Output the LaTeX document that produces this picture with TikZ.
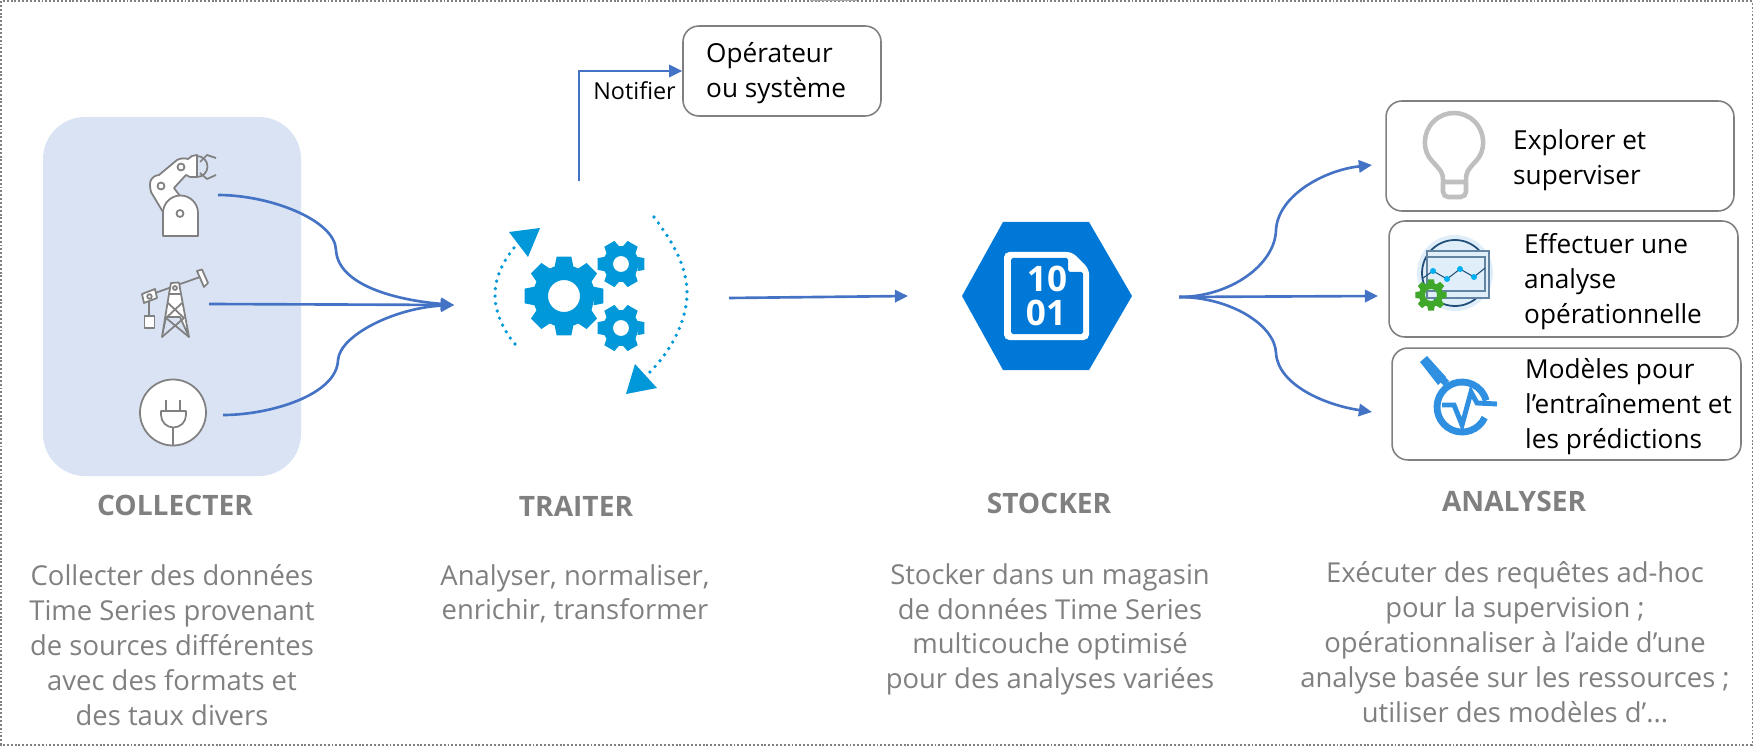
\documentclass[tikz,border=0pt]{standalone}
\usepackage{fontspec}
\setmainfont{Open Sans}
\usetikzlibrary{arrows.meta}

\definecolor{bleuligne}{HTML}{4472C4}
\definecolor{bleupanneau}{HTML}{DAE3F3}
\definecolor{grisicone}{HTML}{808080}
\definecolor{bleuroue}{HTML}{0098D9}
\definecolor{bleuhex}{HTML}{0078D7}
\definecolor{bleuloupe}{HTML}{2F8FE0}
\definecolor{vertroue}{HTML}{3FA82B}
\definecolor{bleunuit}{HTML}{1F4E79}
\definecolor{bleupale}{HTML}{E0EEF9}
\definecolor{bleupoint}{HTML}{00B0F0}

\tikzset{
  lien/.style={draw=bleuligne, line width=1.5pt, -{Triangle[length=7.5pt,width=7pt]}},
  boite/.style={draw=grisicone, line width=0.9pt, rounded corners=9pt, inner sep=0pt},
  icone/.style={draw=grisicone, line width=1pt, fill=white, line join=round},
  pointille/.style={draw=bleuroue, line width=2.1pt, line cap=round, dash pattern=on 0pt off 4.3pt},
  titre/.style={text=grisicone, font=\fontsize{16}{18}\selectfont\bfseries, anchor=base},
  corps/.style={text=grisicone, font=\fontsize{15.6}{19.9}\selectfont, align=center, anchor=north},
  texteboite/.style={font=\fontsize{14.9}{19.9}\selectfont, align=left, anchor=north west},
}

% roue dentee : x, y, dents, rayon ext, rayon int, trou, couleur
\newcommand{\roue}[7]{
  \begin{scope}[shift={(#1,#2)}]
    \fill[#7, even odd rule] (0:#5)
      \foreach \d in {1,...,#3} {
        -- ({\d*360/#3-140/#3}:#5) -- ({\d*360/#3-85/#3}:#4)
        -- ({\d*360/#3+85/#3}:#4) -- ({\d*360/#3+140/#3}:#5)
      } -- cycle (0,0) circle (#6);
  \end{scope}
}

\begin{document}
\begin{tikzpicture}[x=0.02cm, y=-0.02cm]
  \useasboundingbox (0,0) rectangle (1763,746);

  % Cadre
  \draw[gray, line width=0.6pt, dash pattern=on 1.1pt off 1.1pt] (1,1) rectangle (1752,745);
  \draw[gray!70, line width=1pt] (810,0.5) -- (857,0.5);

  % Collecter
  \fill[bleupanneau, rounded corners=24pt] (43,117) rectangle (301,476);

  % robot
  \draw[icone] (163,212) -- (151,192) .. controls (148,180) and (152,176) .. (159,175)
    -- (177,160) .. controls (181,158) and (185,158) .. (188,159) -- (192,156) -- (197,155)
    -- (197,177) -- (190,177) -- (186,175) -- (174,188) -- (183,200) -- (163,212);
  \draw[icone] (163,236) -- (163,213) arc (180:360:17.5) -- (198,236) -- cycle;
  \draw[icone, fill=none] (161,186) circle (3.5) (181,167) circle (3.5) (180,213.5) circle (3.5);
  \draw[icone, fill=none] (197,156) arc (-90:90:10.5);
  \draw[icone, fill=none] (200,162) -- (207,155) -- (216,158);
  \draw[icone, fill=none] (200,173) -- (207,179) -- (216,175);

  % pompe
  \draw[icone, fill=none] (149,297) -- (149,316);
  \draw[icone] (144.5,316) rectangle (154.5,328);
  \draw[icone, fill=none] (155,293) -- (200,277);
  \draw[icone] (197,271) -- (202,269.5) -- (208,283) -- (204,287) -- cycle;
  \draw[icone] (142,294) -- (155,289) -- (157,298) -- (144,303) -- cycle;
  \draw[icone, fill=none] (149.5,296.5) circle (2.3);
  \draw[icone] (162,337) -- (169,294) -- (181,294) -- (189,337) -- (180,317) -- (166,317) -- cycle;
  \draw[icone] (169,294) -- (171,283) -- (179,282.5) -- (181,294) -- cycle;
  \draw[icone, fill=none] (175,288) circle (2);
  \draw[icone, fill=none] (162,337) -- (184,318) -- (168,303) (189,337) -- (166,318) -- (182,303);

  % prise
  \draw[icone] (173,412.5) circle (33);
  \draw[icone, fill=none] (166,400) -- (166,411) (180,400) -- (180,411);
  \draw[icone, fill=none] (161,411) -- (186,411) -- (186,415) arc (0:180:12.5) -- cycle;
  \draw[icone, fill=none] (173,427) -- (173,445);

  \coordinate (robotsortie) at (218,195);
  \coordinate (pompesortie) at (209,304);
  \coordinate (prisesortie) at (223,415);
  \coordinate (collecte) at (454,305);
  \draw[lien] (robotsortie) .. controls (270,195) and (335,220) .. (336,250)
    .. controls (338,285) and (395,300) .. (collecte);
  \draw[lien] (pompesortie) -- (collecte);
  \draw[lien] (prisesortie) .. controls (270,415) and (337,395) .. (338,360)
    .. controls (340,335) and (395,308) .. (collecte);

  \node[titre] (titrecollecter) at (175,515) {COLLECTER};
  \node[corps] (textecollecter) at (172,558) {Collecter des données\\Time Series provenant\\de sources différentes\\avec des formats et\\des taux divers};

  % Traiter
  \roue{564}{296}{8}{40}{31}{16}{bleuroue}
  \roue{621}{264}{6}{24}{18}{8}{bleuroue}
  \roue{621}{328}{6}{24}{18}{8}{bleuroue}
  \draw[pointille] (654,217) .. controls (675,245) and (687,268) .. (687,293)
    .. controls (687,320) and (672,350) .. (649,373);
  \draw[pointille] (515,344) .. controls (503,330) and (495,312) .. (495,295)
    .. controls (495,275) and (505,258) .. (518,243);
  \fill[bleuroue] (509,232) -- (540,228) -- (528,257) -- cycle;
  \fill[bleuroue] (635,364) -- (657,388) -- (626,394) -- cycle;

  \node[boite, minimum width=112.7pt, minimum height=51.2pt] (operateur) at (782,71) {};
  \node[texteboite] (texteoperateur) at (700,36) {Opérateur\\ou système};
  \node[font=\fontsize{13.3}{15}\selectfont, anchor=base west, inner sep=0pt] (notifier) at (593,100) {Notifier};
  \coordinate (alerte) at (579,181);
  \draw[lien] (alerte) |- (operateur.west);

  \coordinate (traitersortie) at (729,298);
  \coordinate (stockerentree) at (908,296);
  \draw[lien] (traitersortie) -- (stockerentree);

  \node[titre] (titretraiter) at (576,516) {TRAITER};
  \node[corps] (textetraiter) at (575,558) {Analyser, normaliser,\\enrichir, transformer};

  % Stocker
  \fill[bleuhex] (962,296) -- (1003,222) -- (1089,222) -- (1132,296) -- (1089,370) -- (1003,370) -- cycle;
  \fill[white, rounded corners=3pt] (1004,252) -- (1072,252) -- (1089,269) -- (1089,340) -- (1004,340) -- cycle;
  \fill[bleuhex, rounded corners=1pt] (1011,258) -- (1068,258) -- (1068,272) -- (1083,272) -- (1083,334) -- (1011,334) -- cycle;
  \node[text=white, font=\fontsize{20}{20}\selectfont\bfseries, inner sep=0pt] (dix) at (1047,279) {10};
  \node[text=white, font=\fontsize{20}{20}\selectfont\bfseries, inner sep=0pt] (unzero) at (1046,313) {01};

  \coordinate (stockersortie) at (1179,297);
  \coordinate (versexplorer) at (1372,165);
  \coordinate (versanalyse) at (1378,296);
  \coordinate (versmodeles) at (1372,412);
  \draw[lien] (stockersortie) .. controls (1230,297) and (1275,265) .. (1276,230)
    .. controls (1278,195) and (1325,170) .. (versexplorer);
  \draw[lien] (stockersortie) -- (versanalyse);
  \draw[lien] (stockersortie) .. controls (1230,297) and (1275,325) .. (1276,353)
    .. controls (1278,385) and (1325,405) .. (versmodeles);

  \node[titre] (titrestocker) at (1049,513) {STOCKER};
  \node[corps] (textestocker) at (1050,557) {Stocker dans un magasin\\de données Time Series\\multicouche optimisé\\pour des analyses variées};

  % Analyser
  \node[boite, minimum width=198pt, minimum height=62.6pt] (explorer) at (1560,156) {};
  \node[boite, minimum width=198.6pt, minimum height=66pt] (analyse) at (1563.5,279) {};
  \node[boite, minimum width=198.6pt, minimum height=63.7pt] (modeles) at (1566.5,404) {};

  % ampoule
  \draw[line width=2.6pt, draw=black!25, rounded corners=1pt] (1443,182) .. controls (1443,172) and (1440,170) .. (1433.5,162.5)
    arc (135:405:29) .. controls (1468,170) and (1466,172) .. (1466,182) -- cycle;
  \draw[line width=2.6pt, draw=black!25, rounded corners=3pt] (1443,182) -- (1443,197) -- (1466,197) -- (1466,182);

  % moniteur
  \fill[bleupale] (1455,273) circle (38);
  \draw[bleunuit, line width=1pt] (1455,273) circle (33);
  \draw[bleunuit!70, line width=0.6pt, fill=bleupale] (1427,251) rectangle (1489,298);
  \draw[bleunuit!70, line width=0.6pt, fill=bleupale] (1427,257) rectangle (1485,291);
  \draw[bleunuit, line width=0.6pt] (1423,278) -- (1433,271) -- (1447,279) -- (1460,269) -- (1474,277) -- (1485,268);
  \foreach \px/\py in {1433/271, 1447/279, 1460/269, 1474/277} {
    \fill[bleupoint] (\px,\py) circle (3);
  }
  \roue{1431}{295}{8}{16}{12}{6}{vertroue}

  % loupe
  \draw[bleuloupe, line width=3.9pt] (1484.7,417.6) arc (25:345:25);
  \draw[bleuloupe, line width=2.8pt, line join=miter] (1442,405) -- (1454,405) -- (1462,425) -- (1471,392) -- (1477,403) -- (1497,404);
  \fill[bleuloupe] (1420,362) -- (1427,356) -- (1446,377) -- (1438,385) -- cycle;
  \fill[bleuloupe] (1438,380) -- (1443,375) -- (1449,381) -- (1444,386) -- cycle;

  \node[texteboite] (texteexplorer) at (1507,123) {Explorer et\\superviser};
  \node[texteboite] (texteanalyse) at (1518,227) {Effectuer une\\analyse\\opérationnelle};
  \node[texteboite] (textemodeles) at (1519,352) {Modèles pour\\l’entraînement et\\les prédictions};

  \node[titre] (titreanalyser) at (1514,511) {ANALYSER};
  \node[corps] (texteanalyser) at (1515,555) {Exécuter des requêtes ad-hoc\\pour la supervision ;\\opérationnaliser à l’aide d’une\\analyse basée sur les ressources ;\\utiliser des modèles d’...};
\end{tikzpicture}
\end{document}
